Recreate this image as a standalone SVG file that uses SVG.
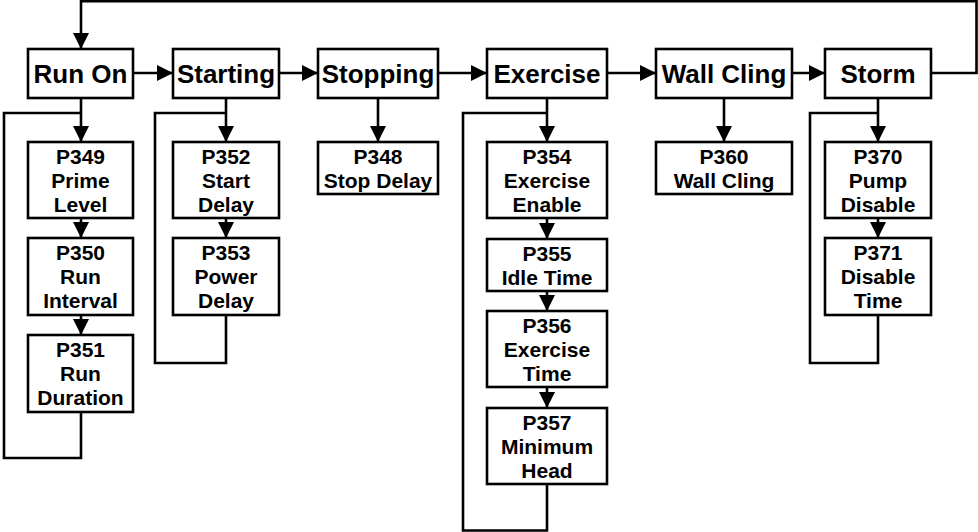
<svg xmlns="http://www.w3.org/2000/svg" width="978" height="532" viewBox="0 0 978 532">
<style>
.box{fill:#fff;stroke:#000;stroke-width:2.6}
.ln{fill:none;stroke:#000;stroke-width:2.6}
.t1{font-family:"Liberation Sans",Arial,sans-serif;font-weight:bold;font-size:26px;text-anchor:middle;fill:#000}
.t2{font-family:"Liberation Sans",Arial,sans-serif;font-weight:bold;font-size:21px;text-anchor:middle;fill:#000}
</style>
<defs>
<marker id="ah" markerUnits="userSpaceOnUse" markerWidth="16" markerHeight="16" refX="16" refY="8" orient="auto" viewBox="0 0 16 16">
<path d="M0,0 L16,8 L0,16 z" fill="#000"/>
</marker>
</defs>
<rect width="978" height="532" fill="#fff"/>
<g id="connectors">
<path class="ln" d="M931,73 H976.5 V1.3 H81 V49" marker-end="url(#ah)"/>
<path class="ln" d="M133,73 H173" marker-end="url(#ah)"/>
<path class="ln" d="M279,73 H318" marker-end="url(#ah)"/>
<path class="ln" d="M438,73 H487" marker-end="url(#ah)"/>
<path class="ln" d="M607,73 H656" marker-end="url(#ah)"/>
<path class="ln" d="M792,73 H825" marker-end="url(#ah)"/>
<path class="ln" d="M81,98 V142" marker-end="url(#ah)"/>
<path class="ln" d="M81,218 V238" marker-end="url(#ah)"/>
<path class="ln" d="M81,315 V335" marker-end="url(#ah)"/>
<path class="ln" d="M81,412 V458 H4 V113 H81"/>
<path class="ln" d="M226,98 V142" marker-end="url(#ah)"/>
<path class="ln" d="M226,218 V238" marker-end="url(#ah)"/>
<path class="ln" d="M226,315 V363 H155 V113 H226"/>
<path class="ln" d="M378,98 V142" marker-end="url(#ah)"/>
<path class="ln" d="M547,98 V142" marker-end="url(#ah)"/>
<path class="ln" d="M547,218 V239" marker-end="url(#ah)"/>
<path class="ln" d="M547,291 V311" marker-end="url(#ah)"/>
<path class="ln" d="M547,387 V408" marker-end="url(#ah)"/>
<path class="ln" d="M547,484 V530.5 H463 V113 H547"/>
<path class="ln" d="M724,98 V142" marker-end="url(#ah)"/>
<path class="ln" d="M878,98 V142" marker-end="url(#ah)"/>
<path class="ln" d="M878,218 V238" marker-end="url(#ah)"/>
<path class="ln" d="M878,315 V363 H810 V113 H878"/>
</g>
<g id="run-on"><rect class="box" x="28" y="49" width="105" height="49"/><text class="t1" x="80.5" y="82.5">Run On</text></g>
<g id="starting"><rect class="box" x="173" y="49" width="106" height="49"/><text class="t1" x="226" y="82.5">Starting</text></g>
<g id="stopping"><rect class="box" x="318" y="49" width="120" height="49"/><text class="t1" x="378" y="82.5">Stopping</text></g>
<g id="exercise"><rect class="box" x="487" y="49" width="120" height="49"/><text class="t1" x="547" y="82.5">Exercise</text></g>
<g id="wall-cling"><rect class="box" x="656" y="49" width="136" height="49"/><text class="t1" x="724" y="82.5">Wall Cling</text></g>
<g id="storm"><rect class="box" x="825" y="49" width="106" height="49"/><text class="t1" x="878" y="82.5">Storm</text></g>
<g id="p349"><rect class="box" x="28" y="142" width="105" height="76"/><text class="t2" x="80.5"><tspan x="80.5" y="164">P349</tspan><tspan x="80.5" y="188">Prime</tspan><tspan x="80.5" y="212">Level</tspan></text></g>
<g id="p350"><rect class="box" x="28" y="238" width="105" height="77"/><text class="t2" x="80.5"><tspan x="80.5" y="260">P350</tspan><tspan x="80.5" y="284">Run</tspan><tspan x="80.5" y="308">Interval</tspan></text></g>
<g id="p351"><rect class="box" x="28" y="335" width="105" height="77"/><text class="t2" x="80.5"><tspan x="80.5" y="357">P351</tspan><tspan x="80.5" y="381">Run</tspan><tspan x="80.5" y="405">Duration</tspan></text></g>
<g id="p352"><rect class="box" x="173" y="142" width="106" height="76"/><text class="t2"><tspan x="226" y="164">P352</tspan><tspan x="226" y="188">Start</tspan><tspan x="226" y="212">Delay</tspan></text></g>
<g id="p353"><rect class="box" x="173" y="238" width="106" height="77"/><text class="t2"><tspan x="226" y="260">P353</tspan><tspan x="226" y="284">Power</tspan><tspan x="226" y="308">Delay</tspan></text></g>
<g id="p348"><rect class="box" x="318" y="142" width="120" height="52"/><text class="t2"><tspan x="378" y="164">P348</tspan><tspan x="378" y="188">Stop Delay</tspan></text></g>
<g id="p354"><rect class="box" x="487" y="142" width="120" height="76"/><text class="t2"><tspan x="547" y="164">P354</tspan><tspan x="547" y="188">Exercise</tspan><tspan x="547" y="212">Enable</tspan></text></g>
<g id="p355"><rect class="box" x="487" y="239" width="120" height="52"/><text class="t2"><tspan x="547" y="261">P355</tspan><tspan x="547" y="285">Idle Time</tspan></text></g>
<g id="p356"><rect class="box" x="487" y="311" width="120" height="76"/><text class="t2"><tspan x="547" y="333">P356</tspan><tspan x="547" y="357">Exercise</tspan><tspan x="547" y="381">Time</tspan></text></g>
<g id="p357"><rect class="box" x="487" y="408" width="120" height="76"/><text class="t2"><tspan x="547" y="430">P357</tspan><tspan x="547" y="454">Minimum</tspan><tspan x="547" y="478">Head</tspan></text></g>
<g id="p360"><rect class="box" x="656" y="142" width="136" height="52"/><text class="t2"><tspan x="724" y="164">P360</tspan><tspan x="724" y="188">Wall Cling</tspan></text></g>
<g id="p370"><rect class="box" x="825" y="142" width="106" height="76"/><text class="t2"><tspan x="878" y="164">P370</tspan><tspan x="878" y="188">Pump</tspan><tspan x="878" y="212">Disable</tspan></text></g>
<g id="p371"><rect class="box" x="825" y="238" width="106" height="77"/><text class="t2"><tspan x="878" y="260">P371</tspan><tspan x="878" y="284">Disable</tspan><tspan x="878" y="308">Time</tspan></text></g>
</svg>
